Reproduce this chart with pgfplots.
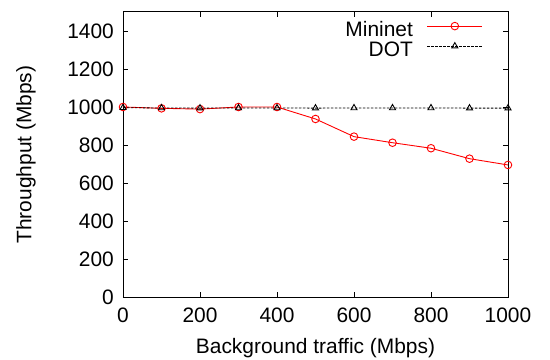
\documentclass[border=0pt]{standalone}
\usepackage{fontspec}
\setmainfont{Liberation Sans}
\usepackage{pgfplots}
\pgfplotsset{compat=1.18}
\begin{document}
\fontsize{21}{24}\selectfont
\begin{tikzpicture}[x=1bp,y=1bp]
\useasboundingbox (-123bp,-63bp) rectangle (427bp,297bp);
\begin{axis}[
  scale only axis,
  width=385bp, height=285bp,
  xmin=0, xmax=1000, ymin=0, ymax=1500,
  xtick={0,200,...,1000}, ytick={0,200,...,1400},
  tick align=inside, major tick length=5bp,
  axis line style={line width=1pt}, tick style={line width=0.8pt, black},
  /pgf/number format/assume math mode=true,
  /pgf/number format/set thousands separator={},
  ticklabel style={font=\fontsize{21}{24}\selectfont},
  xticklabel style={yshift=-4bp},
  yticklabel style={xshift=-2bp},
  label style={font=\fontsize{21}{24}\selectfont},
  xlabel={Background traffic (Mbps)},
  ylabel={Throughput (Mbps)},
  xlabel style={at={(axis description cs:0.5,0)}, anchor=north, yshift=-34bp},
  ylabel style={at={(axis description cs:0,0.5)}, anchor=south, yshift=80bp},
  legend style={draw=none, fill=none, at={(rel axis cs:0.935,0.967)}, anchor=north east,
    font=\fontsize{21}{24}\selectfont, row sep=1bp, column sep=14bp, inner sep=0pt,
    nodes={inner sep=0pt, text height=15bp, text depth=4bp}},
  legend cell align=right,
  legend plot pos=right,
  legend image code/.code={\draw[#1, mark repeat=2, mark phase=2] plot coordinates {(0bp,5bp) (27.5bp,5bp) (55bp,5bp)};},
]
\addplot[red, line width=0.9pt, mark=o, mark size=3.8bp, mark options={solid, line width=0.9pt}]
  coordinates {(0,1000) (100,993) (200,989) (300,1000) (400,1000) (500,937) (600,844) (700,812) (800,783) (900,728) (1000,695)};
\addlegendentry{Mininet}
\addplot[black, line width=0.8pt, dash pattern=on 2.5bp off 1.5bp, mark=triangle, mark size=3.5bp, mark options={solid, line width=0.9pt, draw=black}]
  coordinates {(0,996) (100,995) (200,994) (300,995) (400,995) (500,994) (600,995) (700,995) (800,995) (900,994) (1000,994)};
\addlegendentry{DOT}
\end{axis}
\end{tikzpicture}
\end{document}
